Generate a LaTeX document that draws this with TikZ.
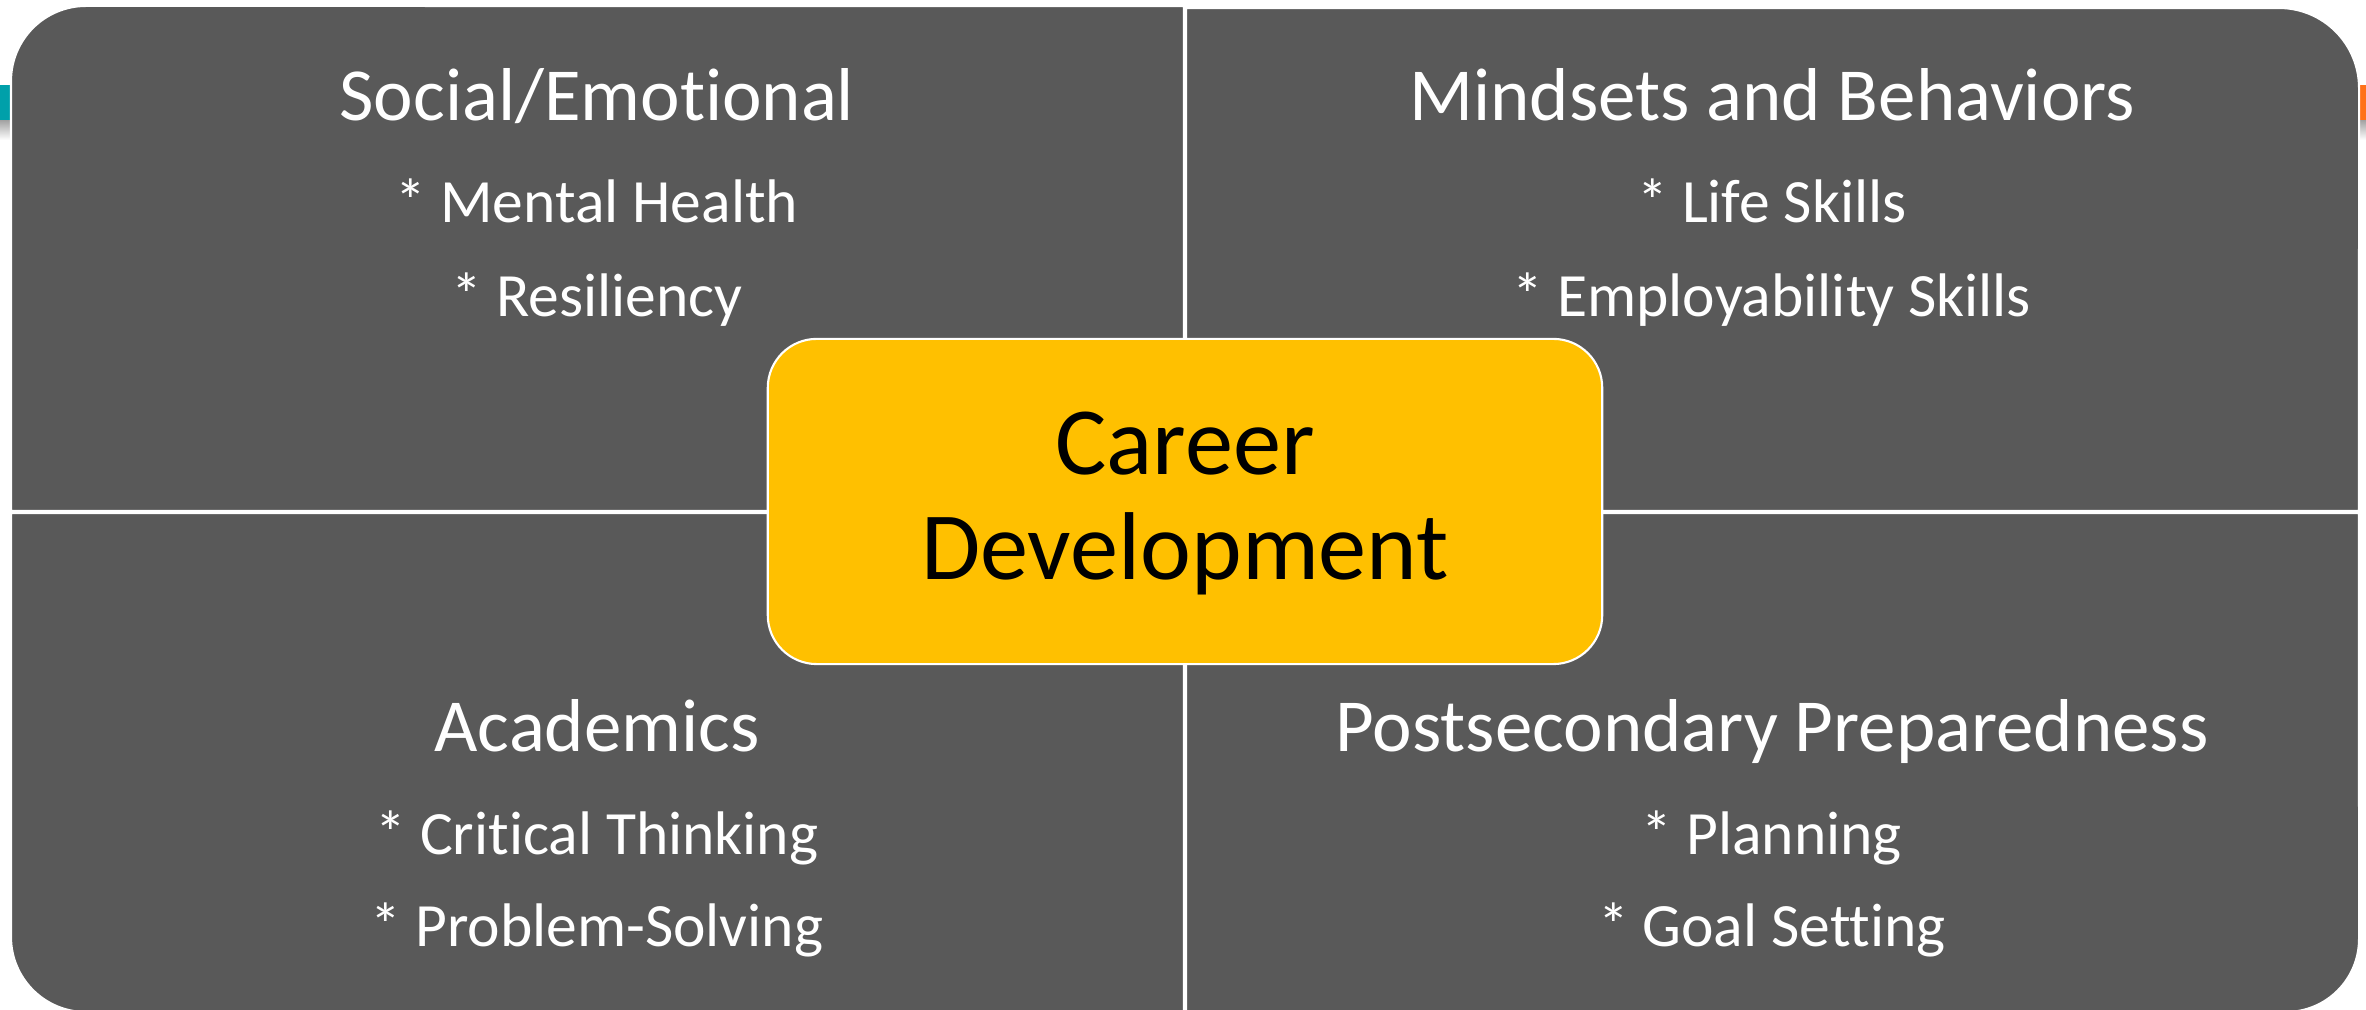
\documentclass[tikz,border=0pt]{standalone}
\usepackage{fontspec}
\setmainfont{Carlito}[Ligatures=NoCommon]
\definecolor{quadgray}{HTML}{595959}
\definecolor{careeryellow}{HTML}{FFC000}
\definecolor{barteal}{HTML}{00A0AA}
\definecolor{barorange}{HTML}{FF7119}
\begin{document}
\begin{tikzpicture}[x=0.01cm,y=0.01cm,
    quad/.style={fill=quadgray,draw=white,line width=0.6pt},
    careerbox/.style={fill=careeryellow,draw=white,line width=0.6pt,rounded corners=0.49cm,
        minimum width=8.34cm,minimum height=3.25cm,inner sep=0pt},
    title/.style={anchor=base,text=white,font=\fontsize{21.3}{26}\selectfont,inner sep=0pt},
    item/.style={anchor=base,text=white,font=\fontsize{17.5}{21}\selectfont,inner sep=0pt},
    careertext/.style={anchor=base,text=black,font=\fontsize{27.4}{33}\selectfont,inner sep=0pt}]
                \useasboundingbox (0,0) rectangle (2366,1010);
                \fill[barteal] (0,890) rectangle (11,925);
                \shade[top color=black!35,bottom color=white] (0,870) rectangle (11,889);
                \fill[barorange] (2359,890) rectangle (2366,925);
                \shade[top color=black!35,bottom color=white] (2359,870) rectangle (2366,889);
                \draw[quad] (11,499) -- (11,929) arc(180:90:0.75cm) -- (1184,1004) -- (1184,499) -- cycle;
                \draw[quad] (1186,499) -- (1186,1002) -- (2279,1002) arc(90:0:0.8cm) -- (2359,499) -- cycle;
                \draw[quad] (11,497) -- (11,73) arc(180:270:0.75cm) -- (1184,-2) -- (1184,497) -- cycle;
                \draw[quad] (1186,497) -- (1186,-2) -- (2286,-2) arc(270:360:0.73cm) -- (2359,497) -- cycle;
                \node[title] (se) at (597,889) {Social/Emotional};
                \node[item] (se1) at (597,787) {* Mental Health};
                \node[item] (se2) at (597,693) {* Resiliency};
                \node[title] (mb) at (1772,889) {Mindsets and Behaviors};
                \node[item] (mb1) at (1772,787) {* Life Skills};
                \node[item] (mb2) at (1772,693) {* Employability Skills};
                \node[title] (ac) at (597,258) {Academics};
                \node[item] (ac1) at (597,155) {* Critical Thinking};
                \node[item] (ac2) at (597,63) {* Problem-Solving};
                \node[title] (pp) at (1772,258) {Postsecondary Preparedness};
                \node[item] (pp1) at (1772,155) {* Planning};
                \node[item] (pp2) at (1772,63) {* Goal Setting};
                \node[careerbox] (career) at (1185,508.5) {};
                \node[careertext] (career1) at (1185,535) {Career};
                \node[careertext] (career2) at (1185,430) {Development};
            \end{tikzpicture}
\end{document}
